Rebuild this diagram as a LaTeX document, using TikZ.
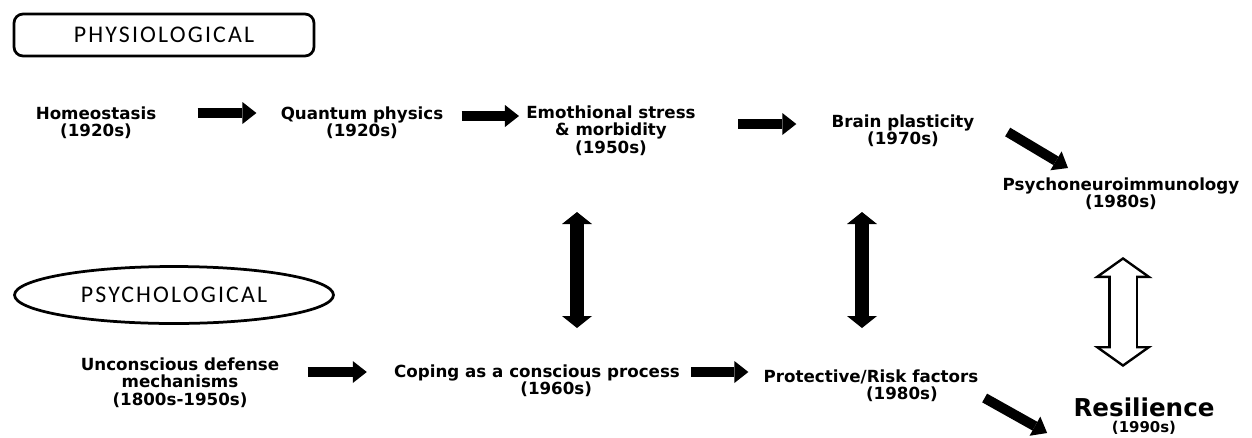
\documentclass[tikz,border=0pt]{standalone}
\usepackage{fontspec}
\setmainfont{DejaVu Sans}
\newfontfamily\boxfont{Carlito}[LetterSpace=9]
\usepackage{tikz}
\usetikzlibrary{positioning, shapes.geometric, arrows.meta}

\begin{document}
\begin{tikzpicture}[
        x=0.02cm, y=-0.02cm,
        topic/.style={inner sep=0pt, anchor=north, align=center, font=\bfseries\fontsize{9.5}{10}\selectfont},
        field/.style={draw, line width=0.055cm, font=\boxfont\fontsize{13.6}{15}\selectfont},
        fat/.style={line width=0.2cm, -{Triangle[length=0.28cm, width=0.44cm, line width=0pt]}},
        tall/.style={line width=0.28cm, {Triangle[length=0.24cm, width=0.6cm, line width=0pt]}-{Triangle[length=0.24cm, width=0.6cm, line width=0pt]}},
        hollow/.style={line width=0.6cm, {Triangle[length=0.42cm, width=1.18cm, line width=0pt]}-{Triangle[length=0.42cm, width=1.18cm, line width=0pt]}},
        hollowin/.style={white, line width=0.5cm, shorten <=0.062cm, shorten >=0.062cm, {Triangle[length=0.31cm, width=0.87cm, line width=0pt]}-{Triangle[length=0.31cm, width=0.87cm, line width=0pt]}},
        hollowcore/.style={white, line width=0.5cm, shorten <=0.3cm, shorten >=0.3cm},
    ]
        \useasboundingbox (0,0) rectangle (1252,437);

        % Fields
        \node[field, rounded corners=0.18cm, minimum width=6cm, minimum height=0.84cm] (physio) at (164,35) {PHYSIOLOGICAL};
        \node[field, ellipse, minimum width=6.38cm, minimum height=1.14cm] (psycho) at (174,295) {PSYCHOLOGICAL};

        % Physiological line
        \node[topic] (homeo) at (96,106) {Homeostasis\\(1920s)};
        \node[topic] (quantum) at (362,106) {Quantum physics\\(1920s)};
        \node[topic] (emo) at (611,105) {Emothional stress\\\& morbidity\\(1950s)};
        \node[topic] (brain) at (903,114) {Brain plasticity\\(1970s)};
        \node[topic] (pni) at (1121,177) {Psychoneuroimmunology\\(1980s)};

        % Psychological line
        \node[topic] (uncon) at (180,357) {Unconscious defense\\mechanisms\\(1800s-1950s)};
        \node[topic] (coping) at (537,364) {Coping as a conscious process\\\hspace*{2.3em}(1960s)};
        \node[topic] (prot) at (871,369) {Protective/Risk factors\\\hspace*{3.7em}(1980s)};
        \node[topic, font=\bfseries\fontsize{14}{14}\selectfont] (resil) at (1144,397) {Resilience};
        \node[topic, font=\bfseries\fontsize{8.5}{9}\selectfont, below=0.09cm of resil] (resilyear) {(1990s)};

        % Flow
        \draw[fat] ([shift={(41,7)}]homeo.north east) -- ([shift={(-24,7)}]quantum.north west);
        \draw[fat] ([shift={(18,10)}]quantum.north east) -- ([shift={(-7,11)}]emo.north west);
        \draw[fat] ([shift={(42,19)}]emo.north east) -- ([shift={(-35,10)}]brain.north west);
        \draw[fat] ([shift={(33,18)}]brain.north east) -- ([shift={(-53,-9)}]pni.north);
        \draw[fat] ([shift={(28,15)}]uncon.north east) -- ([shift={(-27,8)}]coping.north west);
        \draw[fat] ([shift={(11,8)}]coping.north east) -- ([shift={(-15,3)}]prot.north west);
        \draw[fat] ([shift={(6,29)}]prot.north east) -- ([shift={(-26,36)}]resil.north west);

        % Links
        \draw[tall] ([shift={(-34,107)}]emo.north) -- ([shift={(40,-36)}]coping.north);
        \draw[tall] ([shift={(-41,98)}]brain.north) -- ([shift={(-9,-41)}]prot.north);
        \draw[hollow] ([shift={(2,80)}]pni.north) -- ([shift={(-21,-30)}]resil.north);
        \draw[hollowin] ([shift={(2,80)}]pni.north) -- ([shift={(-21,-30)}]resil.north);
        \draw[hollowcore] ([shift={(2,80)}]pni.north) -- ([shift={(-21,-30)}]resil.north);

    \end{tikzpicture}
\end{document}
